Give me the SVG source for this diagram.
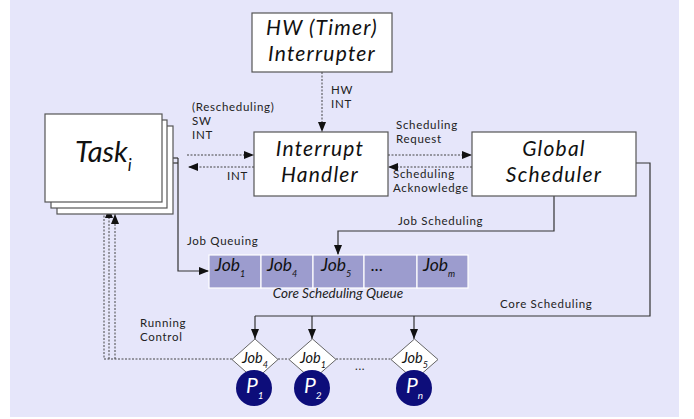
<svg xmlns="http://www.w3.org/2000/svg" width="694" height="419" viewBox="0 0 694 419">
<defs>
<style>
.box{fill:#fff;stroke:#555;stroke-width:1.2}
.big{font-family:Lato,"Open Sans","DejaVu Sans",sans-serif;font-style:italic;font-size:21px;letter-spacing:1.2px;fill:#111;text-anchor:middle}
.lbl{font-family:Lato,"Open Sans","DejaVu Sans",sans-serif;font-size:11.5px;letter-spacing:0.7px;fill:#222}
.solid{fill:none;stroke:#333;stroke-width:1.2}
.dot{fill:none;stroke:#444;stroke-width:1;stroke-dasharray:2,1.5}
.cell{fill:#9C9CCE;stroke:#fff;stroke-width:1.2}
.job{font-family:Lato,"Open Sans","DejaVu Sans",sans-serif;font-style:italic;font-size:17.5px;fill:#111}
.sub{font-size:9px}
.dia{fill:#fff;stroke:#666;stroke-width:1}
.djob{font-family:Lato,"Open Sans","DejaVu Sans",sans-serif;font-style:italic;font-size:14.5px;fill:#111}
.proc{fill:#0D0D7A}
.ptxt{font-family:Lato,"Open Sans","DejaVu Sans",sans-serif;font-style:italic;font-size:21px;fill:#fff}
</style>
<marker id="ah" viewBox="0 0 10 8" refX="10" refY="4" markerWidth="10" markerHeight="8" markerUnits="userSpaceOnUse" orient="auto">
<path d="M0,0 L10,4 L0,8 z" fill="#111"/>
</marker>
</defs>
<rect x="10" y="0" width="669" height="417" fill="#E6E6FA"/>

<g id="connectors">
<line class="dot" x1="322" y1="72" x2="322" y2="132" marker-end="url(#ah)"/>
<line class="dot" x1="187" y1="155" x2="254" y2="155" marker-end="url(#ah)"/>
<line class="dot" x1="254" y1="167" x2="188" y2="167" marker-end="url(#ah)"/>
<line class="dot" x1="388" y1="155" x2="472" y2="155" marker-end="url(#ah)"/>
<line class="dot" x1="472" y1="167" x2="388" y2="167" marker-end="url(#ah)"/>
<line class="solid" x1="162" y1="158" x2="178" y2="158"/>
<line class="solid" x1="168" y1="163" x2="178" y2="163"/>
<polyline class="solid" points="178,158 178,271 209,271" marker-end="url(#ah)"/>
<polyline class="solid" points="554,196 554,231 338,231 338,255" marker-end="url(#ah)"/>
<polyline class="solid" points="636,163 650,163 650,316 255,316"/>
<line class="solid" x1="255" y1="316" x2="255" y2="339" marker-end="url(#ah)"/>
<line class="solid" x1="312" y1="316" x2="312" y2="339" marker-end="url(#ah)"/>
<line class="solid" x1="414" y1="316" x2="414" y2="339" marker-end="url(#ah)"/>
<polyline class="dot" points="232,359 104,359 104,202" marker-end="url(#ah)"/>
<polyline class="dot" points="109,359 109,208" marker-end="url(#ah)"/>
<polyline class="dot" points="115,359 115,214" marker-end="url(#ah)"/>
<line class="dot" x1="278" y1="359" x2="289" y2="359"/>
<line class="dot" x1="336" y1="359" x2="391" y2="359"/>
</g>

<g id="task">
<rect class="box" x="57" y="126" width="116" height="88"/>
<rect class="box" x="51" y="120" width="116" height="88"/>
<rect class="box" x="45" y="114" width="117" height="88"/>
<text x="75" y="162" font-family="Lato,'Open Sans',sans-serif" font-style="italic" font-size="29" fill="#111">Task<tspan font-size="17" dy="9">i</tspan></text>
</g>

<g id="hw-timer">
<rect class="box" x="252" y="13" width="140" height="59"/>
<text class="big" x="322" y="35">HW (Timer)</text>
<text class="big" x="322" y="61">Interrupter</text>
</g>

<g id="interrupt-handler">
<rect class="box" x="254" y="132" width="134" height="64"/>
<text class="big" x="320" y="156">Interrupt</text>
<text class="big" x="320" y="182">Handler</text>
</g>

<g id="global-scheduler">
<rect class="box" x="472" y="132" width="164" height="64"/>
<text class="big" x="554" y="156">Global</text>
<text class="big" x="554" y="182">Scheduler</text>
</g>

<g id="labels">
<text class="lbl" x="331" y="94">HW</text>
<text class="lbl" x="331" y="108">INT</text>
<text class="lbl" x="192" y="111">(Rescheduling)</text>
<text class="lbl" x="192" y="125">SW</text>
<text class="lbl" x="192" y="139">INT</text>
<text class="lbl" x="227" y="180">INT</text>
<text class="lbl" x="396" y="129">Scheduling</text>
<text class="lbl" x="396" y="143">Request</text>
<text class="lbl" x="393" y="178">Scheduling</text>
<text class="lbl" x="393" y="192">Acknowledge</text>
<text class="lbl" x="398" y="225">Job Scheduling</text>
<text class="lbl" x="187" y="245">Job Queuing</text>
<text class="lbl" x="500" y="308">Core Scheduling</text>
<text class="lbl" x="140" y="327">Running</text>
<text class="lbl" x="140" y="341">Control</text>
</g>

<g id="queue">
<rect class="cell" x="209" y="255" width="52" height="33"/>
<rect class="cell" x="261" y="255" width="52" height="33"/>
<rect class="cell" x="313" y="255" width="51" height="33"/>
<rect class="cell" x="364" y="255" width="53" height="33"/>
<rect class="cell" x="417" y="255" width="51" height="33"/>
<text class="job" x="215" y="271">Job<tspan class="sub" dy="6">1</tspan></text>
<text class="job" x="267" y="271">Job<tspan class="sub" dy="6">4</tspan></text>
<text class="job" x="321" y="271">Job<tspan class="sub" dy="6">5</tspan></text>
<text class="job" x="371" y="271">...</text>
<text class="job" x="423" y="271">Job<tspan class="sub" dy="6">m</tspan></text>
<text x="338" y="298" font-family="Lato,'Open Sans',sans-serif" font-style="italic" font-size="13.5" fill="#222" text-anchor="middle">Core Scheduling Queue</text>
</g>

<g id="core-1">
<polygon class="dia" points="255,339 278,359.5 255,380 232,359.5"/>
<circle class="proc" cx="254" cy="388" r="18"/>
<text class="djob" x="242" y="363">Job<tspan class="sub" font-size="8" dy="5">4</tspan></text>
<text class="ptxt" x="246" y="393">P<tspan font-size="10" dy="6">1</tspan></text>
</g>
<g id="core-2">
<polygon class="dia" points="312.5,339 336,359.5 312.5,380 289,359.5"/>
<circle class="proc" cx="312" cy="388" r="18"/>
<text class="djob" x="300" y="363">Job<tspan class="sub" font-size="8" dy="5">1</tspan></text>
<text class="ptxt" x="304" y="393">P<tspan font-size="10" dy="6">2</tspan></text>
</g>
<text class="lbl" x="355" y="370">...</text>
<g id="core-n">
<polygon class="dia" points="414.5,339 438,359.5 414.5,380 391,359.5"/>
<circle class="proc" cx="414" cy="388" r="18"/>
<text class="djob" x="402" y="363">Job<tspan class="sub" font-size="8" dy="5">5</tspan></text>
<text class="ptxt" x="406" y="393">P<tspan font-size="10" dy="6">n</tspan></text>
</g>
</svg>
